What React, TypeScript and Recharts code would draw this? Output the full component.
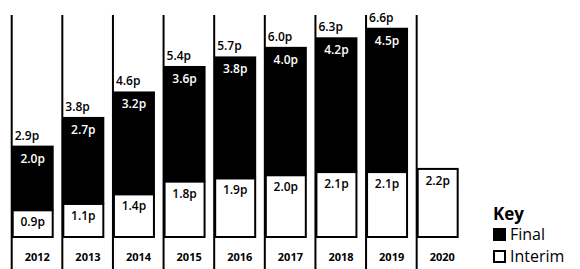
import { Bar, BarChart, LabelList, XAxis, YAxis } from 'recharts'

const YEARS = ['2012', '2013', '2014', '2015', '2016', '2017', '2018', '2019', '2020']
const INTERIM = [0.9, 1.1, 1.4, 1.8, 1.9, 2.0, 2.1, 2.1, 2.2]
const FINAL: (number | null)[] = [2.0, 2.7, 3.2, 3.6, 3.8, 4.0, 4.2, 4.5, null]
const TOTAL: (number | null)[] = [2.9, 3.8, 4.6, 5.4, 5.7, 6.0, 6.3, 6.6, null]

const data = YEARS.map((year, i) => ({
  year,
  interim: INTERIM[i],
  final: FINAL[i],
  total: TOTAL[i],
}))

const FONT = '"Open Sans", sans-serif'
const fmt = (v: unknown) => (typeof v === 'number' ? `${v.toFixed(1)}p` : '')

function InterimShape(props: any) {
  const { x, y, width, height } = props
  return (
    <g>
      <line x1={x} x2={x} y1={15} y2={269} stroke="#000" strokeWidth={2} />
      <rect x={x + 1} y={y + 1} width={width - 2} height={height - 2} fill="#fff" stroke="#000" strokeWidth={2} />
    </g>
  )
}

function FinalShape(props: any) {
  const { x, y, width, height } = props
  if (!height) return null
  return <rect x={x} y={y} width={width} height={height + 1} fill="#000" />
}

function segLabel(color: string) {
  return (props: any) => {
    const { x, y, width, value } = props
    if (value == null) return null
    return (
      <text x={x + width / 2} y={y + 17} fill={color} textAnchor="middle" fontFamily={FONT} fontSize={12} fontWeight={600}>
        {fmt(value)}
      </text>
    )
  }
}

function TotalLabel(props: any) {
  const { x, y, value } = props
  if (value == null) return null
  return (
    <text x={x + 3} y={y - 6} fill="#000" fontFamily={FONT} fontSize={12} fontWeight={600}>
      {fmt(value)}
    </text>
  )
}

function YearTick(props: any) {
  const { x, y, payload } = props
  return (
    <text x={x + 4.3} y={y + 23} textAnchor="middle" fill="#000" fontFamily={FONT} fontSize={11} fontWeight={700}>
      {payload.value}
    </text>
  )
}

function KeyLegend() {
  const sq = { display: 'inline-block', width: 13, height: 13, boxSizing: 'border-box' as const, marginRight: 4, verticalAlign: -1 }
  return (
    <div style={{ position: 'absolute', left: 493, top: 204, fontFamily: FONT, color: '#000' }}>
      <div style={{ fontWeight: 700, fontSize: 17, lineHeight: '20px' }}>Key</div>
      <div style={{ fontSize: 16, lineHeight: '18px', marginTop: 1 }}>
        <span style={{ ...sq, background: '#000' }} />
        Final
      </div>
      <div style={{ fontSize: 16, lineHeight: '18px', marginTop: 4 }}>
        <span style={{ ...sq, border: '2px solid #000' }} />
        Interim
      </div>
    </div>
  )
}

export default function App() {
  return (
    <div style={{ position: 'absolute', left: 0, top: 0, width: 580, height: 269, background: '#fff' }}>
      <BarChart width={580} height={269} data={data} margin={{ top: 15, right: 116.7, left: 7.7, bottom: 0 }} barSize={42}>
        <XAxis dataKey="year" axisLine={false} tickLine={false} tickSize={0} tickMargin={0} tick={<YearTick />} interval={0} height={31} />
        <YAxis hide domain={[0, 7]} />
        <Bar dataKey="interim" stackId="a" shape={<InterimShape />} isAnimationActive={false}>
          <LabelList dataKey="interim" content={segLabel('#000')} />
        </Bar>
        <Bar dataKey="final" stackId="a" shape={<FinalShape />} isAnimationActive={false}>
          <LabelList dataKey="final" content={segLabel('#fff')} />
          <LabelList dataKey="total" content={<TotalLabel />} />
        </Bar>
      </BarChart>
      <KeyLegend />
    </div>
  )
}
